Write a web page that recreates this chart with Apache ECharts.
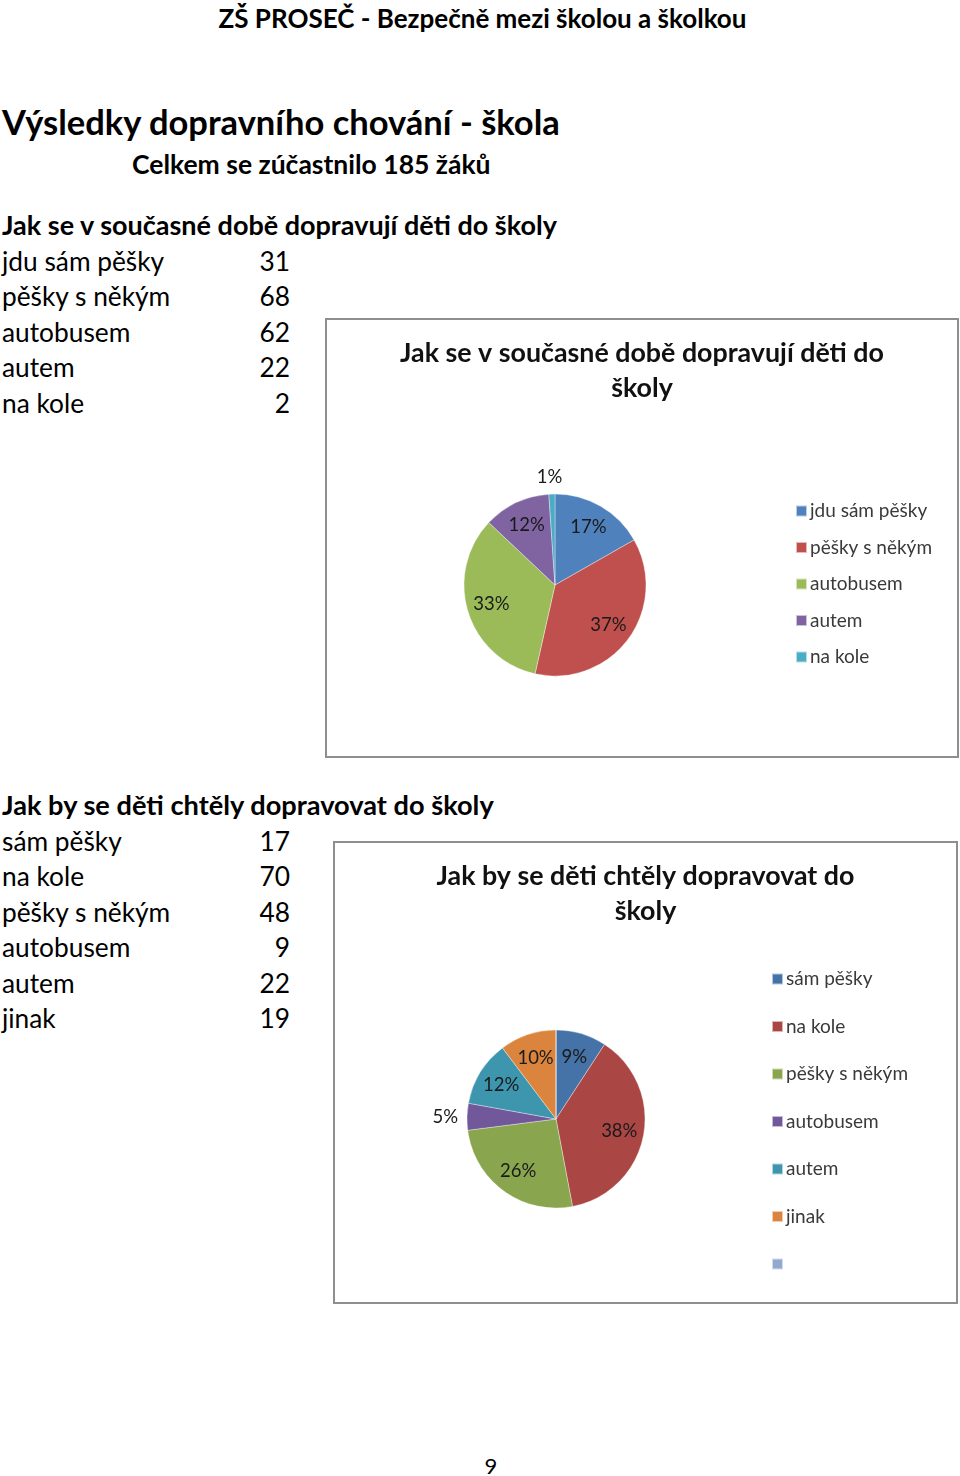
<!DOCTYPE html>
<html><head><meta charset="utf-8">
<script src="https://cdn.jsdelivr.net/npm/echarts@6/dist/echarts.min.js"></script>
<style>
html,body{margin:0;padding:0;background:#fff;}
body{width:960px;height:1476px;position:relative;overflow:hidden;font-family:Lato,"Open Sans",sans-serif;color:#000;}
.t{position:absolute;white-space:nowrap;}
.b{font-weight:bold;}
.box{position:absolute;box-sizing:border-box;border:2px solid #8e8e8e;background:#fff;}
</style></head>
<body>
<div class="t b" id="hdr" style="left:0;width:965px;text-align:center;top:3px;font-size:26px;line-height:30px;">ZŠ PROSEČ - Bezpečně mezi školou a školkou</div>
<div class="t b" style="left:2px;top:102px;font-size:34.5px;line-height:40px;">Výsledky dopravního chování - škola</div>
<div class="t b" style="left:132px;top:149px;font-size:26.5px;line-height:30px;">Celkem se zúčastnilo 185 žáků</div>
<div class="t b" id="h1" style="left:2px;top:210px;font-size:27px;line-height:30px;"></div>
<div id="rows1"></div>
<div class="t b" id="h2" style="left:2px;top:790px;font-size:27.2px;line-height:30px;"></div>
<div id="rows2"></div>
<div class="box" id="c1" style="left:325px;top:318px;width:634px;height:440px;"></div>
<div class="box" id="c2" style="left:333px;top:841px;width:625px;height:463px;"></div>
<div class="t" style="left:441px;width:100px;text-align:center;top:1452px;font-size:22px;line-height:28px;">9</div>
<script>
// ---- data ----
const title1 = 'Jak se v současné době dopravují děti do školy';
const categories1 = ['jdu sám pěšky', 'pěšky s někým', 'autobusem', 'autem', 'na kole'];
const values1 = [31, 68, 62, 22, 2];
const title2 = 'Jak by se děti chtěly dopravovat do školy';
const categories2 = ['sám pěšky', 'na kole', 'pěšky s někým', 'autobusem', 'autem', 'jinak', ' '];
const values2 = [17, 70, 48, 9, 22, 19, 0];
const chartTitle1 = 'Jak se v současné době dopravují děti do\nškoly';
const chartTitle2 = 'Jak by se děti chtěly dopravovat do\nškoly';

const colors1 = ['#4F81BD', '#C0504D', '#9BBB59', '#8064A2', '#4BACC6'];
const colors2 = ['#4572A7', '#AA4643', '#89A54E', '#71589A', '#3D96AE', '#DB843D', '#92A8CD'];

// ---- page text rows ----
document.getElementById('h1').textContent = title1;
document.getElementById('h2').textContent = title2;
function rows(containerId, cats, vals, firstCenter, step) {
  const c = document.getElementById(containerId);
  cats.forEach((n, i) => {
    if (!n.trim()) return;
    const y = firstCenter + i * step - 16;
    const a = document.createElement('div');
    a.className = 't'; a.style.cssText = `left:2px;top:${y}px;font-size:26.3px;line-height:32px;`;
    a.textContent = n; c.appendChild(a);
    const b = document.createElement('div');
    b.className = 't'; b.style.cssText = `left:190px;width:100px;text-align:right;top:${y}px;font-size:26.3px;line-height:32px;`;
    b.textContent = String(vals[i]); c.appendChild(b);
  });
}
rows('rows1', categories1, values1, 261, 35.4);
rows('rows2', categories2, values2, 841, 35.4);

// ---- charts ----
const FONT = 'Lato, "Open Sans", sans-serif';
function makeOption(cats, vals, colors, ttl, center, radius, labelR0, legendLeft, legendTop, legendGap, outside) {
  const data = cats.map((n, i) => ({ name: n, value: vals[i], itemStyle: { color: colors[i] } }));
  const labelData = cats.map((n, i) => {
    const o = { name: n, value: vals[i] };
    if (vals[i] === 0) o.label = { show: false };
    else if (outside[n]) {
      o.label = { position: 'outside', distanceToLabelLine: outside[n].dist };
      o.labelLine = { show: false, length: outside[n].len, length2: 0 };
    }
    return o;
  });
  return {
    animation: false,
    color: colors,
    title: {
      text: ttl, left: 'center', top: 11,
      textStyle: { fontFamily: FONT, fontSize: 26.8, fontWeight: 'bold', color: '#111', lineHeight: 35 }
    },
    legend: {
      orient: 'vertical', left: legendLeft, top: legendTop, itemGap: legendGap,
      itemWidth: 11, itemHeight: 11, icon: 'rect', selectedMode: false,
      data: cats.map((n, i) => ({ name: n, itemStyle: { color: colors[i] } })),
      textStyle: { fontFamily: FONT, fontSize: 19, color: '#3a3a3a', lineHeight: 20, padding: [0, 0, 0, -2] }
    },
    series: [
      {
        type: 'pie', center: center, radius: [0, radius], startAngle: 90, clockwise: true,
        data: data, label: { show: false }, labelLine: { show: false },
        itemStyle: { borderColor: 'rgba(255,255,255,0.6)', borderWidth: 0.6 },
        emphasis: { disabled: true }, silent: true
      },
      {
        type: 'pie', center: center, radius: [labelR0, radius], startAngle: 90, clockwise: true,
        percentPrecision: 0, data: labelData,
        itemStyle: { color: 'rgba(0,0,0,0)' },
        label: { show: true, position: 'inside', formatter: '{d}%', fontFamily: FONT, fontSize: 18.5, color: '#1a1a1a' },
        labelLine: { show: false, length: 8, length2: 0 },
        emphasis: { disabled: true }, silent: true
      }
    ]
  };
}
const ch1 = echarts.init(document.getElementById('c1'), null, { renderer: 'canvas' });
ch1.setOption(makeOption(categories1, values1, colors1, chartTitle1, [228, 265], 91, 36, 463, 176, 16.5,
  { 'na kole': { dist: -11, len: 17 } }));
const ch2 = echarts.init(document.getElementById('c2'), null, { renderer: 'canvas' });
ch2.setOption(makeOption(categories2, values2, colors2, chartTitle2, [221, 276], 89, 34, 431, 121, 27.5,
  { 'autobusem': { dist: 3, len: 6 } }));
</script>
</body></html>
